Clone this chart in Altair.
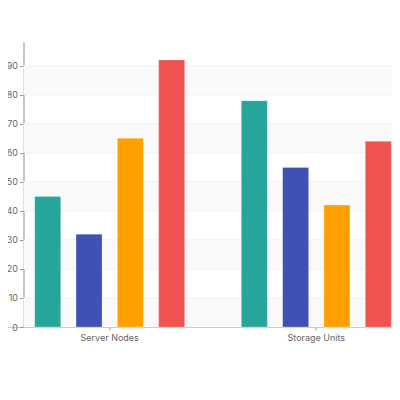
import altair as alt
import pandas as pd

categories = ["Server Nodes", "Storage Units"]
series = ["Series 1", "Series 2", "Series 3", "Series 4"]
server_values = [45, 32, 65, 92]
storage_values = [78, 55, 42, 64]
colors = ["#26a69a", "#3f51b5", "#ffa000", "#ef5350"]
y_ticks = [0, 10, 20, 30, 40, 50, 60, 70, 80, 90]
stripe_starts = [0, 20, 40, 60, 80]

rows = []
for cat, vals in zip(categories, [server_values, storage_values]):
    for s, v in zip(series, vals):
        rows.append({"category": cat, "series": s, "value": v})
df = pd.DataFrame(rows)
stripes = pd.DataFrame({"y0": stripe_starts, "y1": [s + 10 for s in stripe_starts]})
grid = pd.DataFrame({"v": y_ticks[1:]})

W, H = 368, 285
FONT = "Inter"
yscale = alt.Scale(domain=[0, 98.2], nice=False)
yaxis = alt.Axis(
    title=None, values=y_ticks, grid=False, labelFont=FONT, labelFontSize=9,
    labelColor="#666666", domainColor="#8a8a8a", tickColor="#999999",
    tickSize=4, labelPadding=2,
)

stripe_layer = alt.Chart(stripes).mark_rect(color="#fafafa").encode(
    y=alt.Y("y0:Q", scale=yscale, axis=yaxis),
    y2="y1:Q",
    x=alt.value(0),
    x2=alt.value(W),
)

grid_layer = alt.Chart(grid).mark_rule(color="#f0f0f0", strokeWidth=1).encode(
    y=alt.Y("v:Q", scale=yscale, axis=yaxis),
    x=alt.value(0),
    x2=alt.value(W),
)

bars = alt.Chart(df).mark_bar(stroke="white", strokeOpacity=0.35, strokeWidth=0.8).encode(
    x=alt.X(
        "category:N",
        sort=categories,
        scale=alt.Scale(range=[-17.1, 396.1], paddingInner=0, paddingOuter=0),
        axis=alt.Axis(
            title=None, labelAngle=0, labelFont=FONT, labelFontSize=9,
            labelColor="#666666", domainColor="#cccccc", tickColor="#999999",
            tickSize=3, labelPadding=3, grid=False,
        ),
    ),
    xOffset=alt.XOffset(
        "series:N", sort=series,
        scale=alt.Scale(paddingInner=0.37, paddingOuter=0.685),
    ),
    y=alt.Y("value:Q", scale=yscale, axis=yaxis),
    color=alt.Color("series:N", scale=alt.Scale(domain=series, range=colors), legend=None),
)

chart = alt.layer(stripe_layer, grid_layer, bars).properties(
    width=W,
    height=H,
    autosize=alt.AutoSizeParams(type="none"),
    padding={"left": 15.5, "top": 34, "right": 0, "bottom": 60},
).configure(background="white", view=alt.ViewConfig(stroke=None))

chart.save("out.html", embed_options={"renderer": "svg", "actions": False})
